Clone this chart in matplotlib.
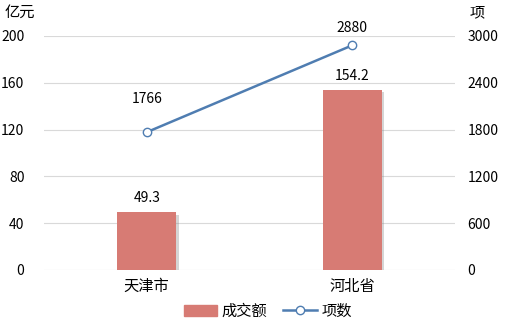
import matplotlib.pyplot as plt
import matplotlib.patheffects as pe
from matplotlib.lines import Line2D
from matplotlib.patches import Patch

plt.rcParams['font.family'] = ['Noto Sans CJK SC', 'DejaVu Sans']

regions = ["天津市", "河北省"]
amount = [49.3, 154.2]      # 成交额 (亿元)
items = [1766, 2880]        # 项数

barColor = "#D77B74"
lineColor = "#4F7DB1"

fig = plt.figure(figsize=(5.05, 3.3), dpi=100)
ax = fig.add_axes([0.087, 0.182, 0.814, 0.709])
ax2 = ax.twinx()

x = range(len(regions))
bars = ax.bar(x, amount, width=0.285, color=barColor, zorder=2,
              path_effects=[pe.SimplePatchShadow(offset=(2, -2), shadow_rgbFace="#888888", alpha=0.35), pe.Normal()])
for i, v in enumerate(amount):
    ax.text(i, v + 6, str(v), ha="center", va="bottom", fontsize=10)

ax.set_xlim(-0.5, 1.5)
ax.set_ylim(0, 200)
ax.set_yticks(range(0, 201, 40))
ax.set_xticks(list(x))
ax.set_xticklabels(regions, fontsize=11)
ax.grid(axis="y", color="#D9D9D9", linewidth=0.8, zorder=0)
ax.set_axisbelow(True)

ax2.plot(x, items, color=lineColor, linewidth=1.8, marker="o", markersize=6,
         markerfacecolor="white", markeredgecolor=lineColor, markeredgewidth=1, zorder=3)
ax2.text(0, items[0] + 330, str(items[0]), ha="center", va="bottom", fontsize=10)
ax2.text(1, items[1] + 130, str(items[1]), ha="center", va="bottom", fontsize=10)
ax2.set_ylim(0, 3000)
ax2.set_yticks(range(0, 3001, 600))

for a in (ax, ax2):
    for s in a.spines.values():
        s.set_visible(False)
    a.tick_params(length=0, labelsize=10)
ax.tick_params(axis="x", labelsize=11, pad=6)
ax.tick_params(axis="y", pad=14)
ax2.tick_params(axis="y", pad=9)

ax.text(-0.095, 1.10, "亿元", transform=ax.transAxes, fontsize=11, ha="left", va="center")
ax2.text(1.036, 1.10, "项", transform=ax2.transAxes, fontsize=11, ha="left", va="center")

handles = [Patch(color=barColor),
           Line2D([0], [0], color=lineColor, linewidth=1.8, marker="o", markersize=6,
                  markerfacecolor="white", markeredgecolor=lineColor)]
fig.legend(handles, ["成交额", "项数"], loc="lower center", bbox_to_anchor=(0.53, -0.01),
           ncol=2, frameon=False, fontsize=11, handlelength=2.2, columnspacing=1.0, handletextpad=0.3)

fig.savefig("out.png", dpi=100)
